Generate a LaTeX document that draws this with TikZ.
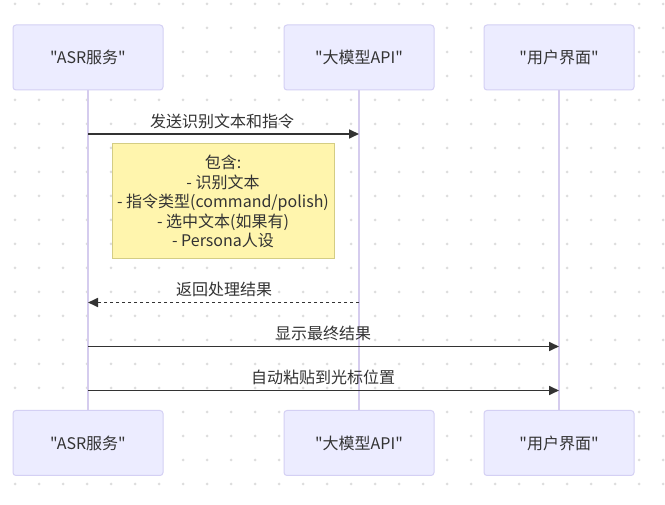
\documentclass[tikz,border=0pt]{standalone}
\usepackage{fontspec}
\setmainfont{Noto Sans CJK SC}[Ligatures=TeXOff]
\usetikzlibrary{arrows.meta}
\definecolor{actorfill}{HTML}{ECECFF}
\definecolor{actorline}{HTML}{D4D0F4}
\definecolor{lifecol}{HTML}{D5CCEE}
\definecolor{notefill}{HTML}{FFF5AD}
\definecolor{noteline}{HTML}{D4CD84}
\definecolor{inkcol}{HTML}{333333}
\definecolor{dotcol}{HTML}{DDDDDD}
\tikzset{
  actorbox/.style={draw=actorline, fill=actorfill, line width=1pt, rounded corners=3pt,
    minimum width=150pt, minimum height=65pt, inner sep=0pt, text=inkcol,
    font=\fontsize{16}{19}\selectfont},
  notebox/.style={draw=noteline, fill=notefill, line width=1pt,
    minimum width=222pt, minimum height=115pt, inner sep=0pt, align=center, text=inkcol,
    font=\fontsize{16}{19.5}\selectfont},
  lifeline/.style={draw=lifecol, line width=1.5pt},
  msg/.style={draw=inkcol, line width=1.7pt, -{Triangle[length=10pt, width=9pt]}},
  msgback/.style={msg, dash pattern=on 3pt off 3pt},
  msglabel/.style={text=inkcol, font=\fontsize{16}{19}\selectfont, inner sep=0pt}
}
\begin{document}
\begin{tikzpicture}[x=1pt, y=-1pt]
\useasboundingbox (0,0) rectangle (665,505);
\fill[white] (0,0) rectangle (665,505);
\foreach \i in {0,...,27}
  \foreach \j in {0,...,20}
    \fill[dotcol] (15+24*\i, 4+24*\j) circle (1.5pt);
\node[actorbox] (asrtop) at (88,57.5) {"ASR服务"};
\node[actorbox] (llmtop) at (359,57.5) {"大模型API"};
\node[actorbox] (uitop) at (559,57.5) {"用户界面"};
\node[actorbox] (asrbot) at (88,443) {"ASR服务"};
\node[actorbox] (llmbot) at (359,443) {"大模型API"};
\node[actorbox] (uibot) at (559,443) {"用户界面"};
\draw[lifeline] (asrtop.south) -- (asrbot.north);
\draw[lifeline] (llmtop.south) -- (llmbot.north);
\draw[lifeline] (uitop.south) -- (uibot.north);
\coordinate (asra) at (88,134);
\coordinate (llma) at (359,134);
\coordinate (llmb) at (359,302.5);
\coordinate (asrb) at (88,302.5);
\coordinate (asrc) at (88,346.5);
\coordinate (uic) at (559,346.5);
\coordinate (asrd) at (88,390.5);
\coordinate (uid) at (559,390.5);
\draw[msg] (asra) -- (llma);
\node[msglabel] at (222,121) {发送识别文本和指令};
\node[notebox] (note) at (223,201.5) {包含:\\- 识别文本\\- 指令类型(command/polish)\\- 选中文本(如果有)\\- Persona人设};
\draw[msgback] (llmb) -- (asrb);
\node[msglabel] at (224,289) {返回处理结果};
\draw[msg] (asrc) -- (uic);
\node[msglabel] at (323,333) {显示最终结果};
\draw[msg] (asrd) -- (uid);
\node[msglabel] at (323,377) {自动粘贴到光标位置};
\end{tikzpicture}
\end{document}
